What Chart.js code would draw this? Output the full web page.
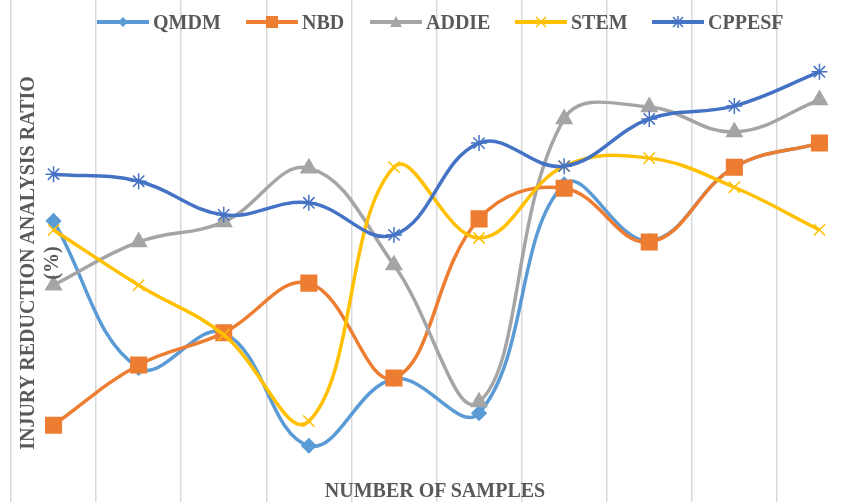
<!DOCTYPE html>
<html>
<head>
<meta charset="utf-8">
<script src="https://cdn.jsdelivr.net/npm/chart.js@4.4.1/dist/chart.umd.min.js"></script>
<style>
  html, body { margin: 0; padding: 0; background: #fff; }
  body { width: 848px; height: 502px; overflow: hidden; position: relative; }
  #wrap { position: absolute; left: 0; top: 0; width: 862px; height: 502px; }
  .txt { position: absolute; font-family: "Liberation Serif", "Times New Roman", serif;
         font-weight: bold; font-size: 20px; color: #595959; white-space: nowrap; }
  .leg { position: absolute; top: 11px; height: 22px; display: flex; align-items: center; }
  .leg span { font-family: "Liberation Serif", serif; font-weight: bold; font-size: 20px;
              color: #595959; margin-left: 4px; line-height: 22px; }
  #ytitle { left: 39px; top: 263px; width: 420px; text-align: center; line-height: 24px;
            transform: translate(-50%, -50%) rotate(-90deg); }
  #xtitle { left: 435px; top: 490px; transform: translate(-50%, -50%); }
</style>
</head>
<body>
<div id="wrap"><canvas id="chart" width="862" height="502"></canvas></div>
<div id="legend"></div>
<div class="txt" id="ytitle">INJURY REDUCTION ANALYSIS RATIO<br>(%)</div>
<div class="txt" id="xtitle">NUMBER OF SAMPLES</div>
<script>
// данные
const samples = ['1', '2', '3', '4', '5', '6', '7', '8', '9', '10'];
const qmdm   = [56.0, 26.7, 33.7, 11.2, 24.5, 17.7, 63.3, 52.0, 66.7, 71.5];
const nbd    = [15.3, 27.3, 33.7, 43.6, 24.7, 56.4, 62.5, 51.8, 66.7, 71.5];
const addie  = [43.2, 51.8, 55.8, 66.5, 47.2, 19.9, 76.3, 78.7, 73.7, 80.1];
const stem   = [54.2, 43.2, 33.3, 16.1, 66.7, 52.6, 66.9, 68.5, 62.7, 54.2];
const cppesf = [65.3, 63.9, 57.2, 59.6, 53.2, 71.5, 66.9, 76.3, 78.9, 85.7];

const series = [
    { label: 'QMDM',   data: qmdm,   color: '#5B9BD5', style: 'rectRot',  r: 7,  order: 4 },
    { label: 'NBD',    data: nbd,    color: '#ED7D31', style: 'rect',     r: 11, order: 3 },
    { label: 'ADDIE',  data: addie,  color: '#A5A5A5', style: 'triangle', r: 9,  order: 2 },
    { label: 'STEM',   data: stem,   color: '#FFC000', style: 'crossRot', r: 8,  order: 1 },
    { label: 'CPPESF', data: cppesf, color: '#4472C4', style: 'star',     r: 8,  order: 0 }
];

new Chart(document.getElementById('chart'), {
    type: 'line',
    data: {
        labels: samples,
        datasets: series.map(s => ({
            label: s.label,
            data: s.data,
            order: s.order,
            borderColor: s.color,
            backgroundColor: s.color,
            borderWidth: 3.5,
            tension: 0.4,
            pointStyle: s.style,
            pointRadius: s.r,
            pointBorderWidth: 1.5,
            pointBackgroundColor: s.color,
            pointBorderColor: s.color
        }))
    },
    options: {
        responsive: false,
        animation: false,
        layout: { autoPadding: false, padding: { left: 11, right: 0, top: 0, bottom: 0 } },
        plugins: { legend: { display: false }, tooltip: { enabled: false } },
        scales: {
            x: {
                offset: true,
                grid: { offset: true, color: '#d9d9d9', lineWidth: 1.5, drawTicks: false },
                border: { display: false },
                ticks: { display: false }
            },
            y: { display: false, min: 0, max: 100 }
        }
    }
});

// легенда в стиле Excel (линия + маркер)
const legX = [97, 246, 370, 515, 652];
const markSvg = (s) => {
    const c = s.color;
    switch (s.style) {
        case 'rectRot':  return `<polygon points="26,5 31,10 26,15 21,10" fill="${c}"/>`;
        case 'rect':     return `<rect x="20" y="4" width="12" height="12" fill="${c}"/>`;
        case 'triangle': return `<polygon points="26,4 32,15 20,15" fill="${c}"/>`;
        case 'crossRot': return `<path d="M21,5 L31,15 M31,5 L21,15" stroke="${c}" stroke-width="1.5"/>`;
        default:         return `<path d="M21,5 L31,15 M31,5 L21,15 M26,4 L26,16" stroke="${c}" stroke-width="1.5"/>`;
    }
};
const legend = document.getElementById('legend');
series.forEach((s, i) => {
    const d = document.createElement('div');
    d.className = 'leg';
    d.style.left = legX[i] + 'px';
    d.innerHTML = `<svg width="52" height="20"><line x1="0" y1="10" x2="52" y2="10" stroke="${s.color}" stroke-width="4"/>${markSvg(s)}</svg><span>${s.label}</span>`;
    legend.appendChild(d);
});
</script>
</body>
</html>
